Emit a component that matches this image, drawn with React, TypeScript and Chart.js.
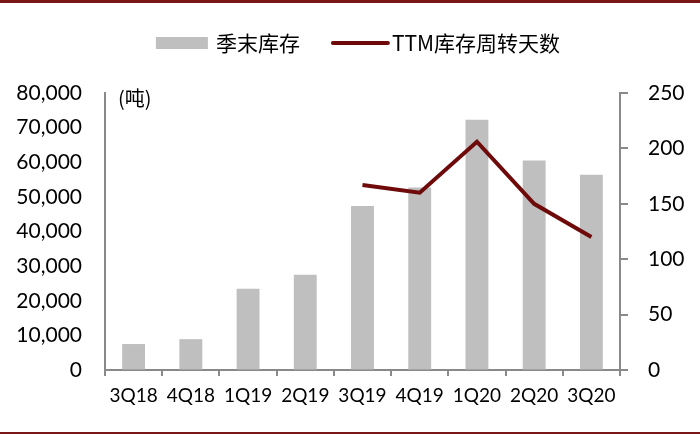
import React, { useEffect, useRef } from "react";
import { Chart, registerables } from "chart.js";

Chart.register(...registerables);

const categories = ["3Q18", "4Q18", "1Q19", "2Q19", "3Q19", "4Q19", "1Q20", "2Q20", "3Q20"];
const inventory = [7500, 8900, 23500, 27500, 47400, 52700, 72300, 60500, 56400];
const turnoverDays = [null, null, null, null, 167, 160, 206, 150, 120];
const seriesNames = ["季末库存", "TTM库存周转天数"];
const unitLabel = "(吨)";
const leftTicks = { min: 0, max: 80000, step: 10000 };
const rightTicks = { min: 0, max: 250, step: 50 };

const BAR_COLOR = "#BFBFBF";
const LINE_COLOR = "#6E0A0A";
const AXIS_COLOR = "#898989";
const FRAME_COLOR = "#7A1518";
const CJK_FONT = '"Noto Sans CJK SC", sans-serif';
const NUM_FONT = "Lato, sans-serif";

const decorPlugin = {
  id: "decor",
  afterDraw(chart: any) {
    const ctx = chart.ctx as CanvasRenderingContext2D;
    const { left, top } = chart.chartArea;
    ctx.save();
    // frame lines
    ctx.fillStyle = FRAME_COLOR;
    ctx.fillRect(0, 0, chart.width, 3);
    ctx.fillRect(0, chart.height - 2, chart.width, 2);

    // unit label
    ctx.font = `20px ${CJK_FONT}`;
    ctx.fillStyle = "#000";
    ctx.textBaseline = "middle";
    ctx.textAlign = "left";
    ctx.fillText(unitLabel, left + 13, top + 5);

    // legend
    ctx.font = `21px ${CJK_FONT}`;
    const ds = chart.data.datasets;
    const boxW = 52;
    const lineW = 57;
    const items = ds.map((d: any) => {
      const isBar = d.type === "bar";
      const markW = isBar ? boxW : lineW;
      const gap = isBar ? 8 : 3;
      const tw = ctx.measureText(d.label).width;
      return { d, isBar, markW, gap, tw, w: markW + gap + tw };
    });
    const spacing = 32;
    const total = items.reduce((s: number, it: any) => s + it.w, 0) + spacing * (items.length - 1);
    let x = (chart.width - total) / 2 + 8;
    const cy = 43;
    items.forEach((it: any) => {
      if (it.isBar) {
        ctx.fillStyle = it.d.backgroundColor;
        ctx.fillRect(x, cy - 6, it.markW, 12);
      } else {
        ctx.strokeStyle = it.d.borderColor;
        ctx.lineWidth = 4;
        ctx.lineCap = "round";
        ctx.beginPath();
        ctx.moveTo(x + 1, cy);
        ctx.lineTo(x + it.markW - 1, cy);
        ctx.stroke();
      }
      ctx.fillStyle = "#000";
      ctx.fillText(it.d.label, x + it.markW + it.gap, cy);
      x += it.w + spacing;
    });
    ctx.restore();
  },
};

export default function App() {
  const canvasRef = useRef<HTMLCanvasElement | null>(null);

  useEffect(() => {
    document.body.style.margin = "0";
    const canvas = canvasRef.current;
    if (!canvas) return;
    const chart = new Chart(canvas, {
      type: "bar",
      data: {
        labels: categories,
        datasets: [
          {
            type: "bar",
            label: seriesNames[0],
            data: inventory,
            backgroundColor: BAR_COLOR,
            borderWidth: 0,
            barPercentage: 0.4,
            categoryPercentage: 1,
            yAxisID: "y",
            order: 1,
          } as any,
          {
            type: "line",
            label: seriesNames[1],
            data: turnoverDays,
            borderColor: LINE_COLOR,
            backgroundColor: LINE_COLOR,
            borderWidth: 4,
            pointRadius: 0,
            tension: 0,
            spanGaps: false,
            yAxisID: "y1",
            order: 0,
          } as any,
        ],
      },
      options: {
        responsive: false,
        animation: false,
        devicePixelRatio: 1,
        layout: { padding: { top: 93, left: 0, right: 0, bottom: 0 } },
        plugins: {
          legend: { display: false },
          tooltip: { enabled: false },
        },
        scales: {
          x: {
            offset: true,
            grid: {
              display: true,
              offset: true,
              drawOnChartArea: false,
              drawTicks: true,
              tickLength: 6,
              color: AXIS_COLOR,
              lineWidth: 2,
            },
            border: { display: true, color: AXIS_COLOR, width: 2 },
            ticks: {
              color: "#000",
              font: { family: NUM_FONT, size: 19 },
              padding: 8,
              maxRotation: 0,
            },
            afterFit(scale: any) {
              scale.height = 64;
            },
          },
          y: {
            position: "left",
            min: leftTicks.min,
            max: leftTicks.max,
            grid: {
              display: true,
              drawOnChartArea: false,
              drawTicks: false,
              color: AXIS_COLOR,
            },
            border: { display: true, color: AXIS_COLOR, width: 2 },
            ticks: {
              stepSize: leftTicks.step,
              color: "#000",
              font: { family: NUM_FONT, size: 21 },
              padding: 23,
              callback: (v: any) => Number(v).toLocaleString("en-US"),
            },
            afterFit(scale: any) {
              scale.width = 105;
            },
          },
          y1: {
            position: "right",
            min: rightTicks.min,
            max: rightTicks.max,
            grid: {
              display: true,
              drawOnChartArea: false,
              drawTicks: true,
              tickLength: 8,
              color: AXIS_COLOR,
              lineWidth: 2,
            },
            border: { display: true, color: AXIS_COLOR, width: 2 },
            ticks: {
              stepSize: rightTicks.step,
              color: "#000",
              font: { family: NUM_FONT, size: 21 },
              padding: 20,
            },
            afterFit(scale: any) {
              scale.width = 80;
            },
          },
        },
      },
      plugins: [decorPlugin],
    });

    const fonts = (document as any).fonts;
    if (fonts && fonts.load) {
      Promise.all([
        fonts.load(`21px ${CJK_FONT}`, "季末库存TTM"),
        fonts.load(`21px ${NUM_FONT}`, "0123456789"),
      ])
        .then(() => chart.update())
        .catch(() => {});
    }

    return () => chart.destroy();
  }, []);

  return (
    <div style={{ position: "fixed", left: 0, top: 0, width: 700, height: 434, background: "#fff" }}>
      <canvas ref={canvasRef} width={700} height={434} style={{ width: 700, height: 434, display: "block" }} />
    </div>
  );
}
